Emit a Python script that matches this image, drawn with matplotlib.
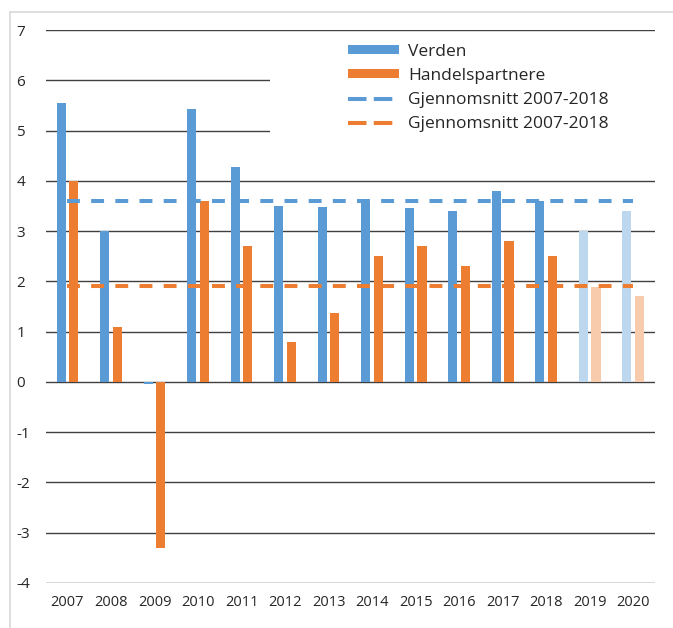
import matplotlib
matplotlib.use("Agg")
import matplotlib.pyplot as plt
from matplotlib.patches import Rectangle, Patch
from matplotlib.lines import Line2D
import numpy as np

plt.rcParams["font.family"] = ["Open Sans", "DejaVu Sans"]

# data
years = ["2007", "2008", "2009", "2010", "2011", "2012", "2013",
         "2014", "2015", "2016", "2017", "2018", "2019", "2020"]
verden = [5.55, 3.0, -0.05, 5.42, 4.27, 3.5, 3.48,
          3.57, 3.45, 3.39, 3.79, 3.59, 3.01, 3.39]
handelspartnere = [4.0, 1.1, -3.3, 3.6, 2.7, 0.8, 1.37,
                   2.51, 2.70, 2.30, 2.80, 2.51, 1.89, 1.71]
snitt_verden = 3.59
snitt_handel = 1.91
n_forecast = 2          # last two years drawn in pale colours
yticks = [7, 6, 5, 4, 3, 2, 1, 0, -1, -2, -3, -4]

BLUE, ORANGE = "#5B9BD5", "#ED7D31"
BLUE_L, ORANGE_L = "#BDD7EE", "#F8CBAD"
GRID = "#404040"
TXT = "#262626"

W, H = 673, 628
fig = plt.figure(figsize=(W / 100, H / 100), dpi=100)
ax = fig.add_axes([45.7 / W, 1 - 583 / H, (655 - 45.7) / W, (583 - 30) / H])

x = np.arange(len(years))
n = len(years)
c_v = [BLUE] * (n - n_forecast) + [BLUE_L] * n_forecast
c_h = [ORANGE] * (n - n_forecast) + [ORANGE_L] * n_forecast
off, bw = 0.145, 0.21
ax.bar(x - off, verden, bw, color=c_v, zorder=2)
ax.bar(x + off, handelspartnere, bw, color=c_h, zorder=2)

dash = (3.2, 2.8)
lw = 2.9
ax.plot([x[0], x[-1]], [snitt_verden] * 2, color=BLUE, lw=lw,
        linestyle=(0, dash), dash_capstyle="butt", zorder=3)
ax.plot([x[0], x[-1]], [snitt_handel] * 2, color=ORANGE, lw=lw,
        linestyle=(0, dash), dash_capstyle="butt", zorder=3)

for v in yticks:
    ax.axhline(v, color=GRID, lw=1.0, zorder=0)

# white box behind the legend hides part of the 5 and 6 gridlines
ax.add_patch(Rectangle((4.65, 4.6), 9.2, 2.0, facecolor="white",
                       edgecolor="none", zorder=0.5, clip_on=False))

ax.set_xlim(-0.5, n - 0.5)
ax.set_ylim(-4, 7)
ax.set_xticks(x)
ax.set_xticklabels(years, fontsize=10.5, color=TXT)
ax.set_yticks(yticks)
ax.set_yticklabels([str(v) for v in yticks], fontsize=11, color=TXT)
for lab in ax.get_yticklabels():
    lab.set_horizontalalignment("left")
ax.tick_params(axis="y", length=0, pad=21)
ax.tick_params(axis="x", length=0, pad=9)
for s in ax.spines.values():
    s.set_visible(False)

leg_dash = (4.6, 1.8)
handles = [
    Patch(facecolor=BLUE, edgecolor="none"),
    Patch(facecolor=ORANGE, edgecolor="none"),
    Line2D([], [], color=BLUE, lw=lw, linestyle=(0, leg_dash), dash_capstyle="butt"),
    Line2D([], [], color=ORANGE, lw=lw, linestyle=(0, leg_dash), dash_capstyle="butt"),
]
labels = ["Verden", "Handelspartnere",
          "Gjennomsnitt 2007-2018", "Gjennomsnitt 2007-2018"]
fig.legend(handles, labels, loc="upper left",
           bbox_to_anchor=(348 / W, 1 - 44 / H), frameon=False,
           fontsize=12.5, handlelength=2.95, handleheight=0.4,
           handletextpad=0.5, labelspacing=0.46, borderpad=0,
           borderaxespad=0, labelcolor=TXT)

# light grey outer frame of the original graphic
fig.add_artist(Line2D([10 / W, 10 / W], [0, 1 - 12 / H], color="#D9D9D9",
                      lw=1.2, transform=fig.transFigure))
fig.add_artist(Line2D([10 / W, 1], [1 - 12 / H, 1 - 12 / H], color="#D9D9D9",
                      lw=1.2, transform=fig.transFigure))

fig.savefig("out.png", dpi=100)
